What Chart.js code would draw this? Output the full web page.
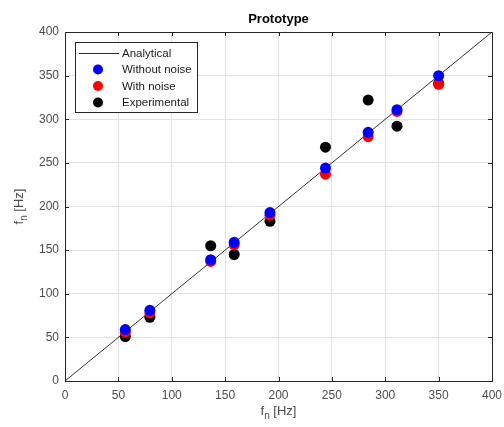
<!DOCTYPE html>
<html>
<head>
<meta charset="utf-8">
<script src="https://cdn.jsdelivr.net/npm/chart.js@4.4.1/dist/chart.umd.min.js"></script>
<style>
  html, body { margin: 0; padding: 0; background: #fff; }
  #wrap { width: 504px; height: 427px; }
</style>
</head>
<body>
<div id="wrap"><canvas id="myChart" width="504" height="427"></canvas></div>
<script>
var freqX = [56.5, 79.5, 136.5, 158.5, 192, 244, 284, 311, 350];
var withoutNoise = [59, 81, 139, 159, 193, 244, 285, 311, 350];
var withNoise = [56, 78, 137, 156, 190, 237, 280, 309, 340];
var experimental = [51, 73, 155, 145, 183, 268, 322, 292, 341];
var tickValues = [0, 50, 100, 150, 200, 250, 300, 350, 400];
var legendNames = ["Analytical", "Without noise", "With noise", "Experimental"];
var seriesColors = ["#333333", "#0000ff", "#ff0000", "#000000"];

var FONT = "'Liberation Sans', Arial, sans-serif";
var TEXT_COLOR = "#4d4d4d";

function toPoints(xs, ys) {
  return xs.map(function (x, i) { return { x: x, y: ys[i] }; });
}

function markerSet(label, ys, color) {
  return {
    label: label,
    data: toPoints(freqX, ys),
    showLine: false,
    pointRadius: 5.5,
    pointHoverRadius: 5.5,
    pointBackgroundColor: color,
    pointBorderColor: color,
    pointBorderWidth: 0
  };
}

// title, inward ticks on all four sides, axis labels with subscript, legend box
var decorations = {
  id: "decorations",
  afterDraw: function (chart) {
    var ctx = chart.ctx;
    var a = chart.chartArea;
    var xs = chart.scales.x;
    var ys = chart.scales.y;
    ctx.save();

    ctx.strokeStyle = "#262626";
    ctx.lineWidth = 1;
    tickValues.forEach(function (v) {
      var px = Math.round(xs.getPixelForValue(v)) + 0.5;
      var py = Math.round(ys.getPixelForValue(v)) + 0.5;
      ctx.beginPath();
      ctx.moveTo(px, a.bottom); ctx.lineTo(px, a.bottom - 4);
      ctx.moveTo(px, a.top); ctx.lineTo(px, a.top + 4);
      ctx.moveTo(a.left, py); ctx.lineTo(a.left + 4, py);
      ctx.moveTo(a.right, py); ctx.lineTo(a.right - 4, py);
      ctx.stroke();
    });
    ctx.strokeRect(Math.round(a.left) + 0.5, Math.round(a.top) + 0.5,
      Math.round(a.right - a.left), Math.round(a.bottom - a.top));

    // title
    ctx.fillStyle = "#000";
    ctx.font = "bold 13px " + FONT;
    ctx.textAlign = "center";
    ctx.textBaseline = "alphabetic";
    ctx.fillText("Prototype", (a.left + a.right) / 2, 23);

    // axis labels: f_n [Hz]
    function axisLabel(cx, cy) {
      ctx.fillStyle = TEXT_COLOR;
      ctx.font = "13px " + FONT;
      var wf = ctx.measureText("f").width;
      var rest = " [Hz]";
      var wr = ctx.measureText(rest).width;
      ctx.font = "10px " + FONT;
      var wn = ctx.measureText("n").width;
      var total = wf + wn + wr;
      var x0 = cx - total / 2;
      ctx.textAlign = "left";
      ctx.font = "13px " + FONT;
      ctx.fillText("f", x0, cy);
      ctx.font = "10px " + FONT;
      ctx.fillText("n", x0 + wf, cy + 4);
      ctx.font = "13px " + FONT;
      ctx.fillText(rest, x0 + wf + wn, cy);
    }
    axisLabel((a.left + a.right) / 2, 415);
    ctx.save();
    ctx.translate(23, (a.top + a.bottom) / 2);
    ctx.rotate(-Math.PI / 2);
    axisLabel(0, 0);
    ctx.restore();

    // legend
    var lx = 75, ly = 42, lw = 122, lh = 70;
    ctx.fillStyle = "#fff";
    ctx.fillRect(lx, ly, lw, lh);
    ctx.strokeStyle = "#262626";
    ctx.strokeRect(lx + 0.5, ly + 0.5, lw, lh);
    ctx.font = "11.5px " + FONT;
    ctx.textAlign = "left";
    ctx.textBaseline = "middle";
    legendNames.forEach(function (name, i) {
      var ry = ly + 11 + i * 16.5;
      if (i === 0) {
        ctx.strokeStyle = seriesColors[0];
        ctx.beginPath();
        ctx.moveTo(lx + 4, ry + 0.5); ctx.lineTo(lx + 44, ry + 0.5);
        ctx.stroke();
      } else {
        ctx.fillStyle = seriesColors[i];
        ctx.beginPath();
        ctx.arc(lx + 23, ry, 5, 0, Math.PI * 2);
        ctx.fill();
      }
      ctx.fillStyle = "#1a1a1a";
      ctx.fillText(name, lx + 47, ry + 0.5);
    });

    ctx.restore();
  }
};

var chart = new Chart(document.getElementById("myChart").getContext("2d"), {
  type: "scatter",
  data: {
    datasets: [
      {
        label: legendNames[0],
        data: [{ x: 0, y: 0 }, { x: 400, y: 400 }],
        showLine: true,
        borderColor: seriesColors[0],
        borderWidth: 1,
        pointRadius: 0,
        order: 4
      },
      markerSet(legendNames[1], withoutNoise, seriesColors[1]),
      markerSet(legendNames[2], withNoise, seriesColors[2]),
      markerSet(legendNames[3], experimental, seriesColors[3])
    ]
  },
  options: {
    responsive: false,
    animation: false,
    layout: { padding: { top: 32, right: 0, left: 0, bottom: 0 } },
    plugins: {
      legend: { display: false },
      tooltip: { enabled: false }
    },
    scales: {
      x: {
        type: "linear",
        min: 0,
        max: 400,
        afterBuildTicks: function (s) { s.ticks = tickValues.map(function (v) { return { value: v }; }); },
        afterFit: function (s) { s.height = 46; s.paddingRight = 12; s.paddingLeft = 0; },
        grid: { color: "#e3e3e3", tickLength: 0, drawTicks: false },
        border: { display: false },
        ticks: { color: TEXT_COLOR, font: { family: FONT, size: 12 }, padding: 7, maxRotation: 0 }
      },
      y: {
        type: "linear",
        min: 0,
        max: 400,
        afterBuildTicks: function (s) { s.ticks = tickValues.map(function (v) { return { value: v }; }); },
        afterFit: function (s) { s.width = 65; },
        grid: { color: "#e3e3e3", tickLength: 0, drawTicks: false },
        border: { display: false },
        ticks: { color: TEXT_COLOR, font: { family: FONT, size: 12 }, padding: 6 }
      }
    }
  },
  plugins: [decorations]
});
</script>
</body>
</html>
